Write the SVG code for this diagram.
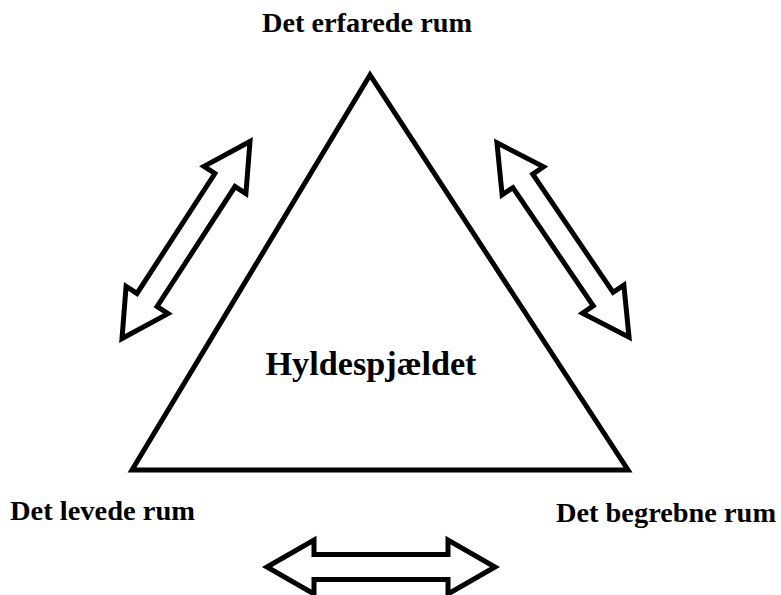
<svg xmlns="http://www.w3.org/2000/svg" width="781" height="595" viewBox="0 0 781 595">
<style>
.shape{fill:#fff;stroke:#000;stroke-width:5;stroke-linejoin:miter;stroke-miterlimit:10}
.lbl{font-family:"Liberation Serif","Times New Roman",serif;font-weight:bold;fill:#000}
</style>
<defs>
<path id="dbl" d="M -117.5,0 L -71.5,-25 L -71.5,-12 L 71.5,-12 L 71.5,-25 L 117.5,0 L 71.5,25 L 71.5,12 L -71.5,12 L -71.5,25 Z"/>
</defs>
<rect width="781" height="595" fill="#fff"/>
<g id="triangle">
<polygon class="shape" points="370,75 132,470 628,470"/>
<text class="lbl" x="371" y="375" font-size="33" text-anchor="middle" textLength="211" lengthAdjust="spacingAndGlyphs">Hyldespjældet</text>
</g>
<g id="top-label"><text class="lbl" x="367" y="32" font-size="27" text-anchor="middle" textLength="210" lengthAdjust="spacingAndGlyphs">Det erfarede rum</text></g>
<g id="left-label"><text class="lbl" x="10" y="520" font-size="28" textLength="185" lengthAdjust="spacingAndGlyphs">Det levede rum</text></g>
<g id="right-label"><text class="lbl" x="556" y="522" font-size="28" textLength="220" lengthAdjust="spacingAndGlyphs">Det begrebne rum</text></g>
<g id="connectors">
<use href="#dbl" class="shape" transform="translate(186,240) rotate(-57)"/>
<use href="#dbl" class="shape" transform="translate(563,240) rotate(55.8)"/>
<path class="shape" d="M 267,567 L 314,540 L 314,554.5 L 448,554.5 L 448,540 L 495,567 L 448,594 L 448,579.5 L 314,579.5 L 314,594 Z"/>
</g>
</svg>
